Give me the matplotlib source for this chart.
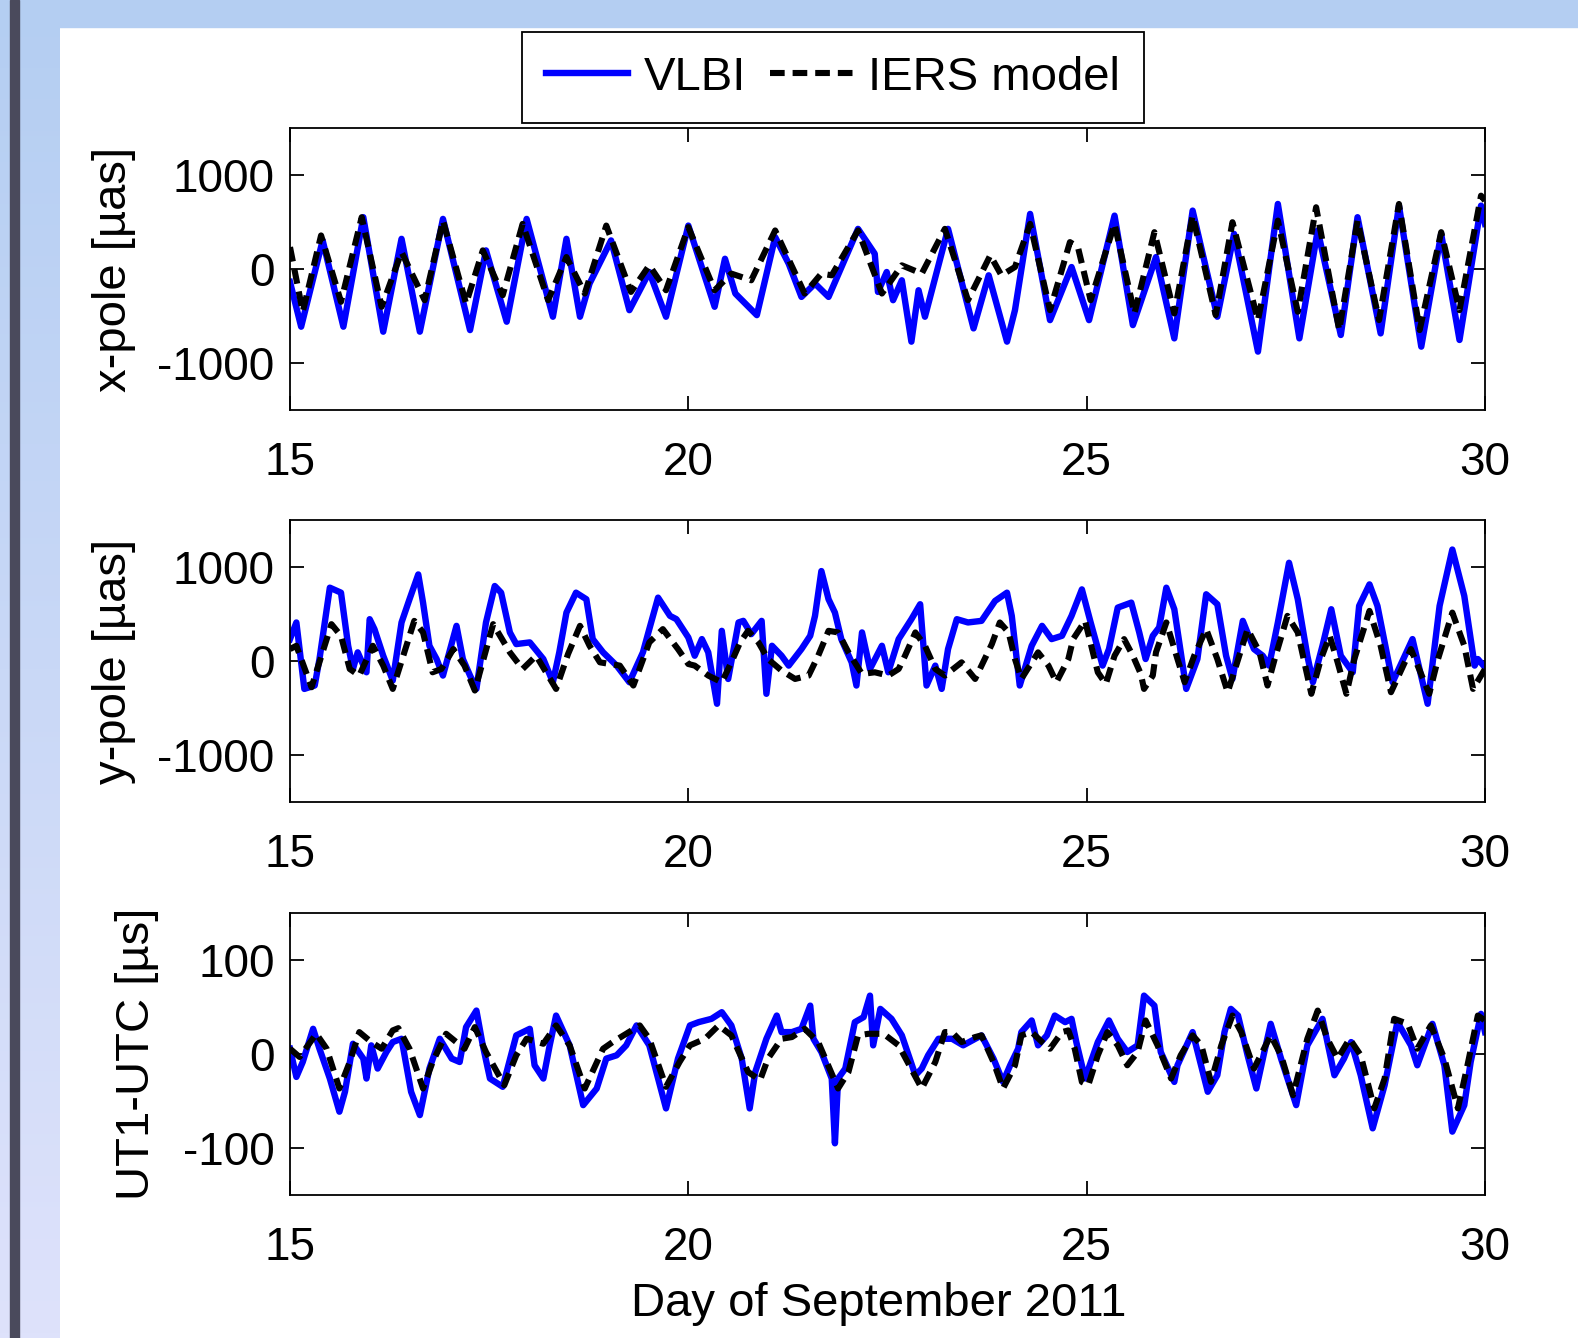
import matplotlib

matplotlib.use("Agg")
import matplotlib.pyplot as plt
import numpy as np
from matplotlib.lines import Line2D
from matplotlib.patches import Rectangle

plt.rcParams["font.family"] = ["Liberation Sans", "DejaVu Sans"]
plt.rcParams["axes.unicode_minus"] = False

# --- x-pole [µas] -----------------------------------------------------------
xpole_vlbi_day = [15.00, 15.14, 15.41, 15.67, 15.92, 16.17, 16.40, 16.63, 16.92, 17.26,
                  17.46, 17.72, 17.97, 18.30, 18.47, 18.64, 18.76, 19.03, 19.26, 19.51,
                  19.72, 20.00, 20.33, 20.46, 20.59, 20.86, 21.09, 21.26, 21.42, 21.59,
                  21.76, 22.13, 22.34, 22.38, 22.49, 22.57, 22.68, 22.80, 22.89, 22.97,
                  23.26, 23.58, 23.77, 24.00, 24.10, 24.29, 24.54, 24.81, 25.03, 25.35,
                  25.58, 25.87, 26.10, 26.33, 26.64, 26.85, 27.15, 27.40, 27.67, 27.90,
                  28.19, 28.40, 28.69, 28.92, 29.20, 29.45, 29.68, 29.95, 30.00]
xpole_vlbi = [-138, -614, 304, -614, 551, -667, 321, -667, 533, -650,
              198, -561, 533, -508, 321, -508, -155, 304, -438, -32,
              -508, 462, -402, 109, -261, -491, 339, 56, -297, -155,
              -297, 427, 162, -244, -32, -332, -120, -773, -226, -508,
              427, -632, -67, -773, -438, 586, -544, 21, -544, 568,
              -597, 127, -738, 621, -508, 374, -879, 692, -738, 410,
              -702, 551, -685, 674, -826, 374, -755, 674, 480]

xpole_iers_day = [15.00, 15.16, 15.39, 15.64, 15.90, 16.15, 16.40, 16.69, 16.92, 17.21,
                  17.42, 17.67, 17.92, 18.24, 18.47, 18.70, 18.97, 19.28, 19.51, 19.72,
                  20.00, 20.33, 20.54, 20.79, 21.09, 21.46, 21.67, 21.80, 22.13, 22.43,
                  22.68, 22.93, 23.22, 23.51, 23.79, 23.93, 24.10, 24.29, 24.54, 24.79,
                  24.89, 25.05, 25.35, 25.60, 25.85, 26.10, 26.33, 26.62, 26.83, 27.15,
                  27.40, 27.65, 27.88, 28.17, 28.40, 28.67, 28.92, 29.18, 29.45, 29.68,
                  29.95, 30.00]
xpole_iers = [233, -455, 357, -349, 551, -402, 180, -332, 515, -367,
              198, -279, 480, -332, 127, -261, 462, -244, 39, -226,
              445, -226, -49, -120, 410, -261, -49, -67, 410, -261,
              39, -49, 427, -332, 145, -67, 21, 480, -438, 286,
              233, -332, 480, -473, 392, -473, 568, -491, 498, -544,
              515, -455, 657, -650, 515, -544, 692, -650, 392, -438,
              780, 727]

# --- y-pole [µas] -----------------------------------------------------------
ypole_vlbi_day = [15.00, 15.08, 15.18, 15.31, 15.37, 15.50, 15.64, 15.73, 15.79, 15.85,
                  15.96, 16.00, 16.06, 16.17, 16.29, 16.40, 16.50, 16.61, 16.67, 16.75,
                  16.84, 16.92, 17.09, 17.17, 17.26, 17.34, 17.46, 17.57, 17.65, 17.76,
                  17.84, 18.01, 18.18, 18.30, 18.38, 18.47, 18.59, 18.72, 18.80, 18.93,
                  19.10, 19.26, 19.43, 19.51, 19.62, 19.77, 19.85, 20.00, 20.08, 20.17,
                  20.25, 20.36, 20.42, 20.50, 20.63, 20.69, 20.79, 20.92, 20.98, 21.05,
                  21.17, 21.26, 21.42, 21.53, 21.59, 21.67, 21.76, 21.84, 21.92, 22.05,
                  22.11, 22.18, 22.28, 22.43, 22.51, 22.64, 22.80, 22.91, 22.99, 23.10,
                  23.18, 23.26, 23.37, 23.51, 23.68, 23.85, 24.00, 24.06, 24.16, 24.31,
                  24.44, 24.56, 24.69, 24.81, 24.94, 25.05, 25.20, 25.28, 25.39, 25.56,
                  25.66, 25.74, 25.83, 25.91, 26.00, 26.10, 26.25, 26.39, 26.50, 26.64,
                  26.75, 26.83, 26.96, 27.10, 27.21, 27.29, 27.40, 27.54, 27.65, 27.77,
                  27.84, 27.96, 28.07, 28.19, 28.34, 28.42, 28.55, 28.65, 28.84, 29.09,
                  29.28, 29.43, 29.59, 29.74, 29.87, 29.91, 30.00]
ypole_vlbi = [233, 410, -297, -261, 21, 780, 727, 162, -85, 92,
              -120, 445, 339, 56, -208, 410, 657, 921, 621, 162,
              21, -155, 374, 21, -155, -297, 410, 798, 727, 304,
              180, 198, 21, -226, 92, 515, 727, 657, 233, 92,
              -49, -226, 92, 339, 674, 480, 445, 250, 56, 233,
              92, -455, 321, -191, 410, 427, 286, 427, -349, 162,
              56, -49, 127, 268, 480, 957, 657, 515, 233, -14,
              -261, 304, -85, 162, -120, 233, 445, 604, -261, -49,
              -297, 127, 445, 410, 427, 639, 727, 480, -261, 162,
              374, 233, 268, 480, 762, 410, -49, 127, 568, 621,
              304, 21, 268, 357, 780, 551, -297, 21, 710, 604,
              56, -191, 427, 127, 56, -49, 410, 1045, 657, 56,
              -226, 162, 551, 56, -120, 586, 815, 586, -226, 233,
              -455, 586, 1186, 692, -49, 21, -67]

ypole_iers_day = [15.00, 15.08, 15.27, 15.52, 15.64, 15.75, 15.87, 16.04, 16.17, 16.29,
                  16.56, 16.67, 16.79, 16.90, 17.05, 17.19, 17.32, 17.55, 17.76, 17.92,
                  18.09, 18.34, 18.49, 18.64, 18.76, 18.89, 19.14, 19.31, 19.51, 19.68,
                  19.87, 20.00, 20.08, 20.25, 20.42, 20.54, 20.65, 20.75, 20.88, 21.00,
                  21.17, 21.34, 21.51, 21.63, 21.76, 21.88, 22.01, 22.18, 22.34, 22.51,
                  22.64, 22.72, 22.85, 22.97, 23.10, 23.22, 23.43, 23.60, 23.72, 23.81,
                  23.91, 24.02, 24.10, 24.18, 24.39, 24.52, 24.62, 24.77, 24.83, 24.98,
                  25.14, 25.24, 25.35, 25.47, 25.58, 25.68, 25.72, 25.83, 25.87, 26.00,
                  26.14, 26.23, 26.35, 26.50, 26.64, 26.77, 26.85, 27.02, 27.17, 27.27,
                  27.36, 27.52, 27.65, 27.82, 27.94, 28.05, 28.15, 28.26, 28.36, 28.55,
                  28.69, 28.82, 29.07, 29.30, 29.41, 29.59, 29.74, 29.85, 30.00]
ypole_iers = [127, 162, -279, 392, 268, -85, -155, 162, -49, -297,
              427, 304, -120, -85, 127, -49, -314, 392, 92, -85,
              56, -297, 74, 374, 162, -14, -49, -261, 198, 339,
              127, -32, -49, -155, -226, -14, 198, 321, 198, 21,
              -102, -191, -155, 56, 321, 304, 92, -138, -120, -155,
              -85, 56, 304, 162, -85, -155, -14, -191, 21, 180,
              410, 304, 21, -191, 92, -49, -226, 21, 233, 427,
              -120, -244, 56, 233, 56, -138, -297, -155, 92, 410,
              21, -226, 56, 339, 21, -332, -120, 339, 92, -261,
              21, 480, 304, -349, 21, 268, -14, -349, 21, 533,
              162, -332, 127, -349, 21, 515, 162, -297, -85]

# --- UT1-UTC [µs] -----------------------------------------------------------
ut1_vlbi_day = [15.00, 15.08, 15.16, 15.29, 15.37, 15.50, 15.62, 15.69, 15.79, 15.92,
                15.96, 16.02, 16.10, 16.21, 16.29, 16.40, 16.52, 16.63, 16.75, 16.88,
                17.03, 17.13, 17.21, 17.34, 17.42, 17.51, 17.67, 17.84, 18.01, 18.07,
                18.18, 18.26, 18.34, 18.51, 18.68, 18.85, 18.97, 19.10, 19.22, 19.35,
                19.51, 19.72, 19.87, 20.02, 20.13, 20.29, 20.42, 20.54, 20.67, 20.77,
                20.84, 20.98, 21.11, 21.17, 21.30, 21.42, 21.53, 21.57, 21.67, 21.80,
                21.84, 21.88, 21.97, 22.09, 22.20, 22.28, 22.32, 22.41, 22.55, 22.68,
                22.85, 22.93, 23.01, 23.14, 23.31, 23.45, 23.60, 23.68, 23.83, 23.95,
                24.04, 24.14, 24.18, 24.31, 24.39, 24.50, 24.60, 24.73, 24.81, 24.87,
                24.98, 25.14, 25.28, 25.39, 25.51, 25.64, 25.72, 25.85, 25.93, 26.10,
                26.14, 26.33, 26.52, 26.64, 26.73, 26.81, 26.90, 27.02, 27.13, 27.23,
                27.31, 27.44, 27.63, 27.77, 27.96, 28.11, 28.23, 28.32, 28.44, 28.59,
                28.74, 28.90, 29.07, 29.15, 29.34, 29.49, 29.59, 29.74, 29.82, 29.95,
                30.00]
ut1_vlbi = [5.6, -24.4, -8.5, 26.8, 5.6, -26.1, -61.4, -40.2, 10.9, -4.9,
            -26.1, 9.2, -15.5, 2.1, 12.7, 16.2, -40.2, -65.0, -15.5, 16.2,
            -4.9, -8.5, 28.6, 46.2, 9.2, -26.1, -34.9, 19.8, 26.8, -12.0,
            -26.1, 9.2, 40.9, 9.2, -54.4, -36.7, -4.9, -1.4, 9.2, 30.4,
            9.2, -57.9, -4.9, 30.4, 33.9, 37.4, 44.5, 30.4, -4.9, -57.9,
            -19.1, 16.2, 40.9, 23.3, 23.3, 26.8, 51.5, 16.2, 2.1, -26.1,
            -95.0, -26.1, -15.5, 33.9, 39.2, 62.1, 9.2, 48.0, 37.4, 19.8,
            -22.6, -15.5, -1.4, 16.2, 16.2, 9.2, 16.2, 19.8, -4.9, -29.7,
            -12.0, 5.6, 23.3, 35.7, 9.2, 19.8, 40.9, 33.9, 37.4, 12.7,
            -26.1, 12.7, 35.7, 16.2, 2.1, 9.2, 62.1, 51.5, 2.1, -29.7,
            -12.0, 23.3, -40.2, -22.6, 23.3, 48.0, 40.9, -1.4, -36.7, 2.1,
            32.1, -4.9, -54.4, 9.2, 37.4, -22.6, -4.9, 12.7, -22.6, -79.1,
            -33.2, 33.9, 9.2, -12.0, 32.1, -12.0, -82.6, -54.4, -8.5, 42.7,
            23.3]

ut1_iers_day = [15.00, 15.12, 15.33, 15.46, 15.62, 15.75, 15.87, 16.02, 16.15, 16.29,
                16.36, 16.50, 16.67, 16.79, 16.96, 17.19, 17.32, 17.46, 17.69, 17.84,
                17.97, 18.18, 18.34, 18.51, 18.70, 18.93, 19.05, 19.22, 19.39, 19.51,
                19.72, 19.89, 20.02, 20.21, 20.38, 20.54, 20.75, 20.90, 21.00, 21.17,
                21.30, 21.46, 21.63, 21.88, 22.01, 22.13, 22.26, 22.45, 22.64, 22.93,
                23.10, 23.22, 23.31, 23.43, 23.60, 23.68, 23.83, 23.95, 24.10, 24.18,
                24.31, 24.44, 24.54, 24.69, 24.77, 24.85, 24.94, 25.02, 25.14, 25.26,
                25.39, 25.51, 25.64, 25.74, 25.89, 26.06, 26.18, 26.33, 26.44, 26.56,
                26.69, 26.83, 26.94, 27.10, 27.31, 27.44, 27.59, 27.77, 27.90, 28.02,
                28.15, 28.30, 28.44, 28.61, 28.74, 28.86, 29.03, 29.15, 29.32, 29.49,
                29.66, 29.78, 29.91, 30.00]
ut1_iers = [5.6, -3.2, 21.5, 5.6, -36.7, -8.5, 23.3, 12.7, 5.6, 25.1,
            27.5, 5.6, -36.7, -8.5, 21.5, 5.6, 28.6, 2.1, -33.2, -1.4,
            16.2, 10.9, 30.4, 9.2, -36.7, 5.6, 12.7, 21.5, 30.4, 16.2,
            -34.9, -8.5, 9.2, 16.2, 30.4, 19.8, -19.1, -27.9, -4.9, 16.2,
            18.0, 26.8, 12.7, -36.7, -19.1, 19.8, 21.5, 21.5, 9.2, -36.7,
            -8.5, 23.3, 23.3, 12.7, 18.0, 19.8, -8.5, -36.7, -12.0, 19.8,
            23.3, 12.7, 5.6, 23.3, 25.1, 5.6, -29.7, -33.2, -1.4, 23.3,
            9.2, -12.0, 2.1, 35.7, 9.2, -26.1, -1.4, 19.8, 9.2, -29.7,
            9.2, 40.9, 23.3, -15.5, 19.8, -1.4, -43.8, 16.2, 46.2, 16.2,
            -4.9, 16.2, -1.4, -57.9, -26.1, 37.4, 32.1, 5.6, 30.4, -4.9,
            -57.9, -12.0, 40.9, 35.7]

panels = [
    ("x-pole [µas]", xpole_vlbi_day, xpole_vlbi, xpole_iers_day, xpole_iers,
     (-1500, 1500), [-1000, 0, 1000]),
    ("y-pole [µas]", ypole_vlbi_day, ypole_vlbi, ypole_iers_day, ypole_iers,
     (-1500, 1500), [-1000, 0, 1000]),
    ("UT1-UTC [µs]", ut1_vlbi_day, ut1_vlbi, ut1_iers_day, ut1_iers,
     (-150, 150), [-100, 0, 100]),
]

W, H = 1578, 1338
TICK_FS = 33
LABEL_FS = 34
VLBI_STYLE = dict(color="#0000ff", lw=4.6, solid_joinstyle="round")
IERS_STYLE = dict(color="black", lw=4.4, ls=(0, (2.4, 1.3)), dash_joinstyle="round")

fig = plt.figure(figsize=(W / 100, H / 100), dpi=100)

# slide-style frame: gradient strip on the left, blue band on top
bg = fig.add_axes([0, 0, 60 / W, 1], zorder=-10)
top_rgb = np.array([180, 206, 242]) / 255
bot_rgb = np.array([222, 226, 251]) / 255
t = np.linspace(0, 1, 256)[:, None, None]
bg.imshow(top_rgb * (1 - t) + bot_rgb * t, aspect="auto", extent=[0, 1, 0, 1])
bg.axis("off")
fig.add_artist(Rectangle((0, 1 - 27 / H), 1, 27 / H, transform=fig.transFigure,
                         color=top_rgb, zorder=-9))
fig.add_artist(Rectangle((10 / W, 0), 9 / W, 1, transform=fig.transFigure,
                         color="#4a4a5c", zorder=-8))

ax_left, ax_w, ax_h = 290 / W, 1195 / W, 282 / H
bottoms = [1 - 410 / H, 1 - 802 / H, 1 - 1195 / H]

for (label, vd, vv, idays, iv, ylim, yticks), b in zip(panels, bottoms):
    ax = fig.add_axes([ax_left, b, ax_w, ax_h])
    ax.plot(vd, vv, **VLBI_STYLE)
    ax.plot(idays, iv, **IERS_STYLE)
    ax.set_xlim(15, 30)
    ax.set_ylim(*ylim)
    ax.set_xticks([15, 20, 25, 30])
    ax.set_yticks(yticks)
    ax.tick_params(direction="in", length=10, width=1.3, top=True, right=True,
                   labelsize=TICK_FS)
    ax.tick_params(axis="x", pad=22)
    ax.tick_params(axis="y", pad=11)
    for s in ax.spines.values():
        s.set_linewidth(1.3)
    ax.set_ylabel(label, fontsize=LABEL_FS, va="center")
    ax.yaxis.set_label_coords(-0.147 if "pole" in label else -0.128, 0.5)

ax.set_xlabel("Day of September 2011", fontsize=LABEL_FS, va="center")
ax.xaxis.set_label_coords(0.493, -0.385)

handles = [Line2D([], [], **VLBI_STYLE), Line2D([], [], **IERS_STYLE)]
leg = fig.legend(handles, ["VLBI", "IERS model"], loc="center",
                 bbox_to_anchor=(833 / W, 1 - 77.5 / H), ncol=2, fontsize=LABEL_FS,
                 frameon=True, fancybox=False, framealpha=1, edgecolor="black",
                 handlelength=1.75, handletextpad=0.33, columnspacing=0.5,
                 borderpad=0.5)
leg.get_frame().set_linewidth(1.3)

fig.savefig("out.png", dpi=100)
